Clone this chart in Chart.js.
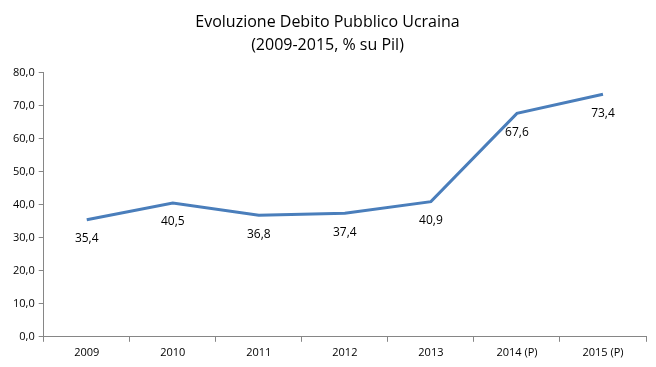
<!DOCTYPE html>
<html>
<head>
<meta charset="utf-8">
<script src="https://cdn.jsdelivr.net/npm/chart.js@4"></script>
<style>
  body { margin: 0; background: #fff; }
  #wrap { width: 656px; height: 367px; }
</style>
</head>
<body>
<div id="wrap"><canvas id="lineChart"></canvas></div>
<script>
// dati
var anni = ["2009", "2010", "2011", "2012", "2013", "2014 (P)", "2015 (P)"];
var debito = [35.4, 40.5, 36.8, 37.4, 40.9, 67.6, 73.4];
var titolo = ["Evoluzione Debito Pubblico Ucraina", "(2009-2015, % su Pil)"];

function virgola(v) {
    return v.toFixed(1).replace(".", ",");
}

// etichette sotto i punti
var etichette = {
    id: "etichette",
    afterDatasetsDraw: function (chart) {
        var ctx = chart.ctx;
        var meta = chart.getDatasetMeta(0);
        ctx.save();
        ctx.font = "12px 'Open Sans'";
        ctx.fillStyle = "#000";
        ctx.textAlign = "center";
        ctx.textBaseline = "middle";
        meta.data.forEach(function (p, i) {
            ctx.fillText(virgola(debito[i]), p.x, p.y + 19);
        });
        ctx.restore();
    }
};

var ctxL = document.getElementById("lineChart").getContext("2d");
var myLineChart = new Chart(ctxL, {
    type: "line",
    data: {
        labels: anni,
        datasets: [{
            data: debito,
            borderColor: "#4A7EBB",
            borderWidth: 3,
            pointRadius: 0,
            tension: 0,
            fill: false
        }]
    },
    options: {
        responsive: true,
        maintainAspectRatio: false,
        animation: false,
        layout: { padding: { left: 9, right: 10, top: 3, bottom: 4 } },
        plugins: {
            legend: { display: false },
            tooltip: { enabled: false },
            title: {
                display: true,
                text: titolo,
                color: "#000",
                font: { family: "'Open Sans'", size: 16, weight: "normal", lineHeight: 1.45 },
                padding: { top: 8, bottom: 15 }
            }
        },
        scales: {
            x: {
                offset: true,
                grid: { offset: true, drawOnChartArea: false, drawTicks: true, tickLength: 5, color: "#868686" },
                border: { color: "#868686" },
                ticks: { color: "#000", font: { family: "'Open Sans'", size: 11 }, padding: 4, maxRotation: 0 }
            },
            y: {
                min: 0,
                max: 80,
                grid: { drawOnChartArea: false, drawTicks: true, tickLength: 5, color: "#868686" },
                border: { color: "#868686" },
                ticks: {
                    stepSize: 10,
                    color: "#000",
                    font: { family: "'Open Sans'", size: 11 },
                    padding: 4,
                    callback: function (v) { return virgola(v); }
                }
            }
        }
    },
    plugins: [etichette]
});
</script>
</body>
</html>
